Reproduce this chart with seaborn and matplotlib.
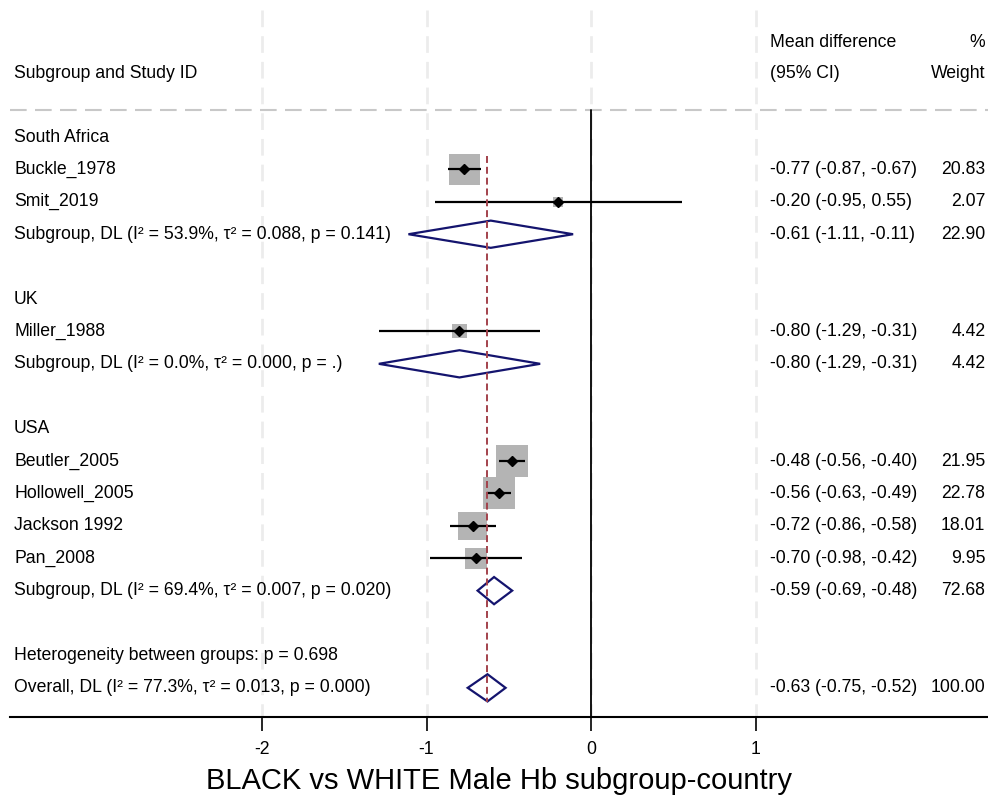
import numpy as np
import pandas as pd
import matplotlib
matplotlib.use("Agg")
import matplotlib.pyplot as plt
import seaborn as sns

# ---------------- data ----------------
groups = ["South Africa", "UK", "USA"]
group_studies = [
    ["Buckle_1978", "Smit_2019"],
    ["Miller_1988"],
    ["Beutler_2005", "Hollowell_2005", "Jackson 1992", "Pan_2008"],
]
study_est = [[-0.77, -0.20], [-0.80], [-0.48, -0.56, -0.72, -0.70]]
study_lo = [[-0.87, -0.95], [-1.29], [-0.56, -0.63, -0.86, -0.98]]
study_hi = [[-0.67, 0.55], [-0.31], [-0.40, -0.49, -0.58, -0.42]]
study_w = [[20.83, 2.07], [4.42], [21.95, 22.78, 18.01, 9.95]]

sub_est = [-0.61, -0.80, -0.59]
sub_lo = [-1.11, -1.29, -0.69]
sub_hi = [-0.11, -0.31, -0.48]
sub_w = [22.90, 4.42, 72.68]
sub_I2 = ["53.9%", "0.0%", "69.4%"]
sub_tau2 = ["0.088", "0.000", "0.007"]
sub_p = ["0.141", ".", "0.020"]

het_p = "0.698"
overall_est, overall_lo, overall_hi, overall_w = -0.63, -0.75, -0.52, 100.00
overall_I2, overall_tau2, overall_p = "77.3%", "0.013", "0.000"

xticks = [-2, -1, 0, 1]
title = "BLACK vs WHITE Male Hb subgroup-country"

# ---------------- style ----------------
sns.set_theme(style="white")
plt.rcParams["font.family"] = ["Liberation Sans", "DejaVu Sans"]
plt.rcParams["lines.scale_dashes"] = False
plt.rcParams["text.color"] = "black"
plt.rcParams["axes.labelcolor"] = "black"
plt.rcParams["xtick.color"] = "black"

fig = plt.figure(figsize=(9.88, 7.96), dpi=100)
ax = fig.add_axes([10 / 988, 1 - 717 / 796, 978 / 988, (717 - 10) / 796])

FS = 12.7
navy = "#14146e"
grey_box = "#b4b4b4"
red = "#a3424c"

# ---------------- build rows ----------------
r = 0
study_records = []
sub_records = []
label_rows = []
for gi, g in enumerate(groups):
    label_rows.append((r, g))
    r += 1
    for si, s in enumerate(group_studies[gi]):
        study_records.append(dict(row=r, label=s, est=study_est[gi][si],
                                  lo=study_lo[gi][si], hi=study_hi[gi][si],
                                  w=study_w[gi][si]))
        r += 1
    sub_records.append(dict(row=r, est=sub_est[gi], lo=sub_lo[gi], hi=sub_hi[gi],
                            w=sub_w[gi],
                            label=f"Subgroup, DL (I² = {sub_I2[gi]}, τ² = {sub_tau2[gi]}, p = {sub_p[gi]})"))
    r += 2
het_row = r
overall_row = r + 1
last_row = overall_row

df = pd.DataFrame(study_records)

ymin_top = -3.92
ymax_bot = last_row + 0.9
ax.set_xlim(-3.53, 2.41)
ax.set_ylim(ymax_bot, ymin_top)

# grid lines (vertical dashed)
for xt in xticks:
    ax.plot([xt, xt], [ymin_top, ymax_bot], color="#ececec", lw=2.0,
            dashes=(12, 6.5), zorder=0)

# header separator
sep_y = -0.83
ax.axhline(sep_y, color="#c8c8c8", lw=1.5, dashes=(12, 6), zorder=1)

# zero line
ax.plot([0, 0], [sep_y, ymax_bot], color="black", lw=1.3, zorder=2)

# overall dashed line
ax.plot([overall_est, overall_est], [0.6, last_row + 0.45], color=red, lw=1.4,
        dashes=(5, 2.8), zorder=5)

# weight boxes
k = 23.3
wmin, wmax = df["w"].min(), df["w"].max()
sns.scatterplot(data=df, x="est", y="row", size="w", sizes=(k * wmin, k * wmax),
                size_norm=(wmin, wmax), marker="s", color=grey_box,
                edgecolor="none", linewidth=0, legend=False, ax=ax, zorder=3)

# CIs
ax.hlines(df["row"], df["lo"], df["hi"], color="black", lw=1.6, zorder=4)
ax.plot(df["est"], df["row"], linestyle="none", marker="D", ms=4.6,
        color="black", zorder=6)

# diamonds
h = 0.42
def diamond(est, lo, hi, row):
    xs = [lo, est, hi, est, lo]
    ys = [row, row - h, row, row + h, row]
    ax.fill(xs, ys, facecolor="white", edgecolor=navy, lw=1.6, zorder=4,
            joinstyle="miter")

for s in sub_records:
    diamond(s["est"], s["lo"], s["hi"], s["row"])
diamond(overall_est, overall_lo, overall_hi, overall_row)

# ---------------- text ----------------
xl = -3.505
xc = 1.0875
xw = 2.394

ax.text(xl, -1.95, "Subgroup and Study ID", ha="left", va="center", fontsize=FS)
ax.text(xc, -2.92, "Mean difference", ha="left", va="center", fontsize=FS)
ax.text(xc, -1.95, "(95% CI)", ha="left", va="center", fontsize=FS)
ax.text(xw, -2.92, "%", ha="right", va="center", fontsize=FS)
ax.text(xw, -1.95, "Weight", ha="right", va="center", fontsize=FS)

for rr, g in label_rows:
    ax.text(xl, rr, g, ha="left", va="center", fontsize=FS)

def ci_text(e, lo, hi):
    return f"{e:.2f} ({lo:.2f}, {hi:.2f})"

for rec in study_records:
    ax.text(xl, rec["row"], rec["label"], ha="left", va="center", fontsize=FS)
    ax.text(xc, rec["row"], ci_text(rec["est"], rec["lo"], rec["hi"]),
            ha="left", va="center", fontsize=FS)
    ax.text(xw, rec["row"], f"{rec['w']:.2f}", ha="right", va="center", fontsize=FS)

for s in sub_records:
    ax.text(xl, s["row"], s["label"], ha="left", va="center", fontsize=FS)
    ax.text(xc, s["row"], ci_text(s["est"], s["lo"], s["hi"]),
            ha="left", va="center", fontsize=FS)
    ax.text(xw, s["row"], f"{s['w']:.2f}", ha="right", va="center", fontsize=FS)

ax.text(xl, het_row, f"Heterogeneity between groups: p = {het_p}",
        ha="left", va="center", fontsize=FS)
ax.text(xl, overall_row,
        f"Overall, DL (I² = {overall_I2}, τ² = {overall_tau2}, p = {overall_p})",
        ha="left", va="center", fontsize=FS)
ax.text(xc, overall_row, ci_text(overall_est, overall_lo, overall_hi),
        ha="left", va="center", fontsize=FS)
ax.text(xw, overall_row, f"{overall_w:.2f}", ha="right", va="center", fontsize=FS)

# ---------------- axes ----------------
for sp in ["top", "left", "right"]:
    ax.spines[sp].set_visible(False)
ax.spines["bottom"].set_color("black")
ax.spines["bottom"].set_linewidth(1.5)
ax.set_yticks([])
ax.set_xticks(xticks)
ax.set_xticklabels([str(t) for t in xticks])
ax.tick_params(axis="x", direction="out", length=10, width=1.2, colors="black",
               labelsize=FS, pad=7, bottom=True)
ax.set_ylabel("")
ax.set_xlabel(title, fontsize=21, labelpad=7, color="black")
ax.set_facecolor("white")
fig.patch.set_facecolor("white")

fig.savefig("out.png", dpi=100, facecolor="white")
